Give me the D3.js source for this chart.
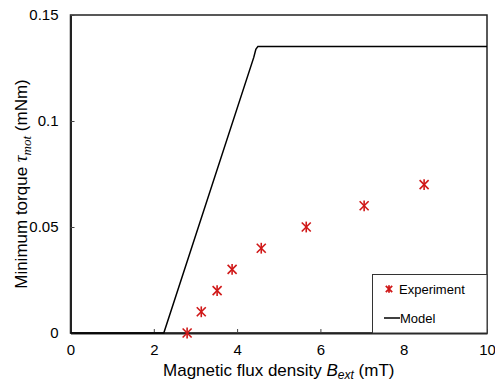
<!DOCTYPE html>
<html lang="en">
	<head>
		<meta charset="utf-8">
		<title>Minimum torque vs magnetic flux density</title>
		<script type="text/javascript" src="https://cdn.jsdelivr.net/npm/d3@7"></script>
		<style type="text/css">
			body { margin: 0; background: #fff; }
			text { font-family: "Liberation Sans", Arial, sans-serif; fill: #000; }
			.tick text { font-size: 15px; }
			.serif { font-family: "Liberation Serif", "Times New Roman", serif; font-style: italic; }
		</style>
	</head>
	<body>
		<script type="text/javascript">

			var w = 495;
			var h = 383;
			var margin = {top: 15, right: 8, bottom: 50, left: 70.5};

			// Experiment points
			var expB = [2.80, 3.14, 3.52, 3.88, 4.58, 5.66, 7.05, 8.49];
			var expTorque = [0, 0.01, 0.02, 0.03, 0.04, 0.05, 0.06, 0.07];

			// Model curve
			var modelB = [0, 2.24, 4.40, 4.45, 4.50, 10];
			var modelTorque = [0, 0, 0.1300, 0.1338, 0.1352, 0.1352];

			var xTicks = [0, 2, 4, 6, 8, 10];
			var yTicks = [0, 0.05, 0.1, 0.15];

			var svg = d3.select("body")
						.append("svg")
						.attr("width", w)
						.attr("height", h);

			var x = d3.scaleLinear().domain([0, 10]).range([margin.left, w - margin.right]);
			var y = d3.scaleLinear().domain([0, 0.15]).range([h - margin.bottom, margin.top]);

			// plot frame
			svg.append("rect")
				.attr("x", x(0))
				.attr("y", y(0.15))
				.attr("width", x(10) - x(0))
				.attr("height", y(0) - y(0.15))
				.attr("fill", "none")
				.attr("stroke", "#222")
				.attr("stroke-width", 1.5);

			var xAxis = svg.append("g")
				.attr("transform", "translate(0," + y(0) + ")")
				.call(d3.axisBottom(x).tickValues(xTicks).tickSizeInner(-4).tickSizeOuter(0).tickPadding(11)
					.tickFormat(d3.format("d")));
			xAxis.select(".domain").attr("stroke", "#222").attr("stroke-width", 2);
			xAxis.selectAll(".tick line").attr("stroke", "#444");

			var yAxis = svg.append("g")
				.attr("transform", "translate(" + x(0) + ",0)")
				.call(d3.axisLeft(y).tickValues(yTicks).tickSizeInner(-4).tickSizeOuter(0).tickPadding(12)
					.tickFormat(function(d) { return d === 0 ? "0" : String(+d.toFixed(2)); }));
			yAxis.select(".domain").attr("stroke", "#222").attr("stroke-width", 2);
			yAxis.selectAll(".tick line").attr("stroke", "#444");

			// model line
			var line = d3.line()
				.x(function(d) { return x(d[0]); })
				.y(function(d) { return y(d[1]); });

			svg.append("path")
				.datum(d3.zip(modelB, modelTorque))
				.attr("d", line)
				.attr("fill", "none")
				.attr("stroke", "#000")
				.attr("stroke-width", 1.5);

			// asterisk markers
			function star(g, s) {
				g.append("line").attr("x1", -s).attr("y1", -s).attr("x2", s).attr("y2", s);
				g.append("line").attr("x1", -s).attr("y1", s).attr("x2", s).attr("y2", -s);
				g.append("line").attr("x1", 0).attr("y1", -s * 1.2).attr("x2", 0).attr("y2", s * 1.2);
			}

			svg.selectAll("g.pt")
				.data(d3.zip(expB, expTorque))
				.enter()
				.append("g")
				.attr("class", "pt")
				.attr("transform", function(d) { return "translate(" + x(d[0]) + "," + y(d[1]) + ")"; })
				.attr("stroke", "#d01818")
				.attr("stroke-width", 1.6)
				.each(function() { star(d3.select(this), 4.5); });

			// legend
			var lg = svg.append("g");
			lg.append("rect")
				.attr("x", 372.5)
				.attr("y", 274.5)
				.attr("width", x(10) - 372.5)
				.attr("height", y(0) - 274.5)
				.attr("fill", "#fff")
				.attr("stroke", "#333")
				.attr("stroke-width", 1);
			var lm = lg.append("g")
				.attr("transform", "translate(389,289)")
				.attr("stroke", "#d01818")
				.attr("stroke-width", 1.8);
			star(lm, 3.2);
			lg.append("text").attr("x", 399).attr("y", 294).attr("font-size", 13).text("Experiment");
			lg.append("line")
				.attr("x1", 384).attr("x2", 400)
				.attr("y1", 318).attr("y2", 318)
				.attr("stroke", "#000").attr("stroke-width", 1.5);
			lg.append("text").attr("x", 400).attr("y", 323).attr("font-size", 13).text("Model");

			// x axis title
			var xt = svg.append("text")
				.attr("x", (x(0) + x(10)) / 2)
				.attr("y", 376)
				.attr("text-anchor", "middle")
				.attr("font-size", 17);
			xt.append("tspan").text("Magnetic flux density ");
			xt.append("tspan").attr("font-style", "italic").text("B");
			xt.append("tspan").attr("font-style", "italic").attr("font-size", 12).attr("dy", 3).text("ext");
			xt.append("tspan").attr("dy", -3).text(" (mT)");

			// y axis title
			var yt = svg.append("text")
				.attr("transform", "translate(27," + 184 + ") rotate(-90)")
				.attr("text-anchor", "middle")
				.attr("font-size", 17);
			yt.append("tspan").text("Minimum torque ");
			yt.append("tspan").attr("class", "serif").attr("font-size", 19).text("τ");
			yt.append("tspan").attr("class", "serif").attr("font-size", 13).attr("dy", 4).text("mot");
			yt.append("tspan").attr("dy", -4).text(" (mNm)");

		</script>
	</body>
</html>
